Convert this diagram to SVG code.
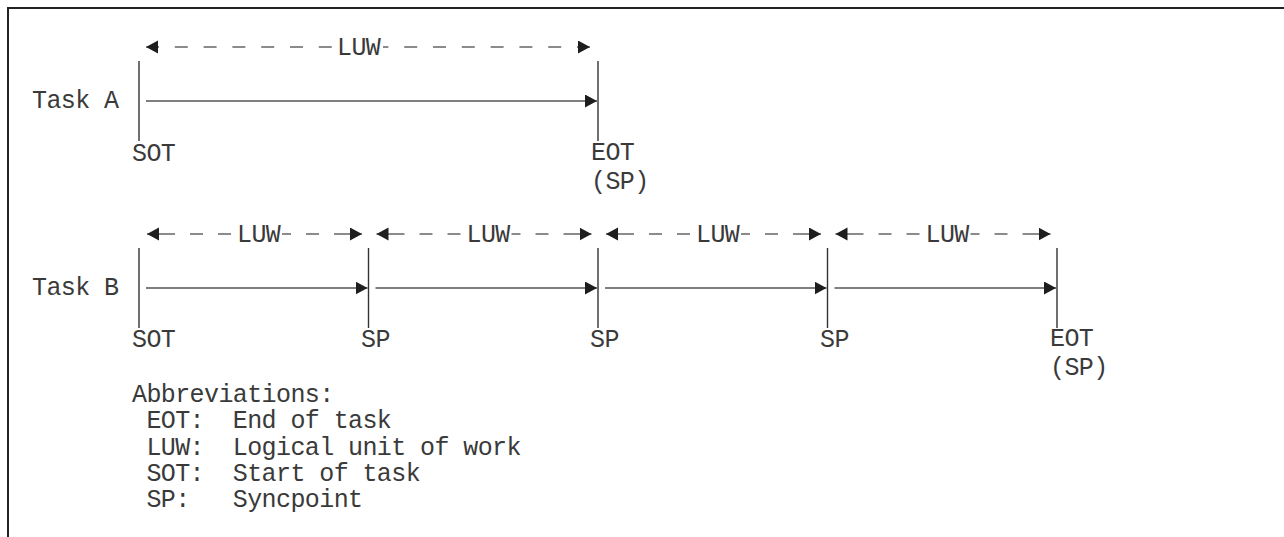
<svg xmlns="http://www.w3.org/2000/svg" width="1284" height="537" viewBox="0 0 1284 537">
<style>
.t{font-family:"Liberation Mono","DejaVu Sans Mono",monospace;font-size:25px;letter-spacing:-0.6px;fill:#3a3a3a}
.v{stroke:#333;stroke-width:1.4;fill:none}
.h{stroke:#555;stroke-width:1.4;fill:none;marker-end:url(#ah)}
.dA{stroke:#666;stroke-width:1.4;fill:none;stroke-dasharray:13 15.8;marker-start:url(#ah)}
.dB{stroke:#666;stroke-width:1.4;fill:none;stroke-dasharray:28 15 13 15 13 15 13 15;marker-start:url(#ah)}
.frame{stroke:#222;stroke-width:2;fill:none}
</style>
<defs>
<marker id="ah" markerUnits="userSpaceOnUse" markerWidth="13" markerHeight="14" refX="12" refY="6.5" orient="auto-start-reverse">
<path d="M0,0 L12,6.5 L0,13 z" fill="#1e1e1e"/>
</marker>
</defs>
<path class="frame" d="M1284,8 L8,8 L8,537"/>

<g id="taskA">
<text class="t" x="32" y="108">Task A</text>
<line class="v" x1="139" y1="61" x2="139" y2="141"/>
<line class="v" x1="598" y1="61" x2="598" y2="141"/>
<text class="t" x="132" y="161">SOT</text>
<text class="t" x="591" y="160">EOT<tspan x="591" dy="28.5">(SP)</tspan></text>
</g>

<g id="taskB">
<text class="t" x="32" y="295">Task B</text>
<line class="v" x1="139" y1="248" x2="139" y2="328"/>
<line class="v" x1="368.5" y1="248" x2="368.5" y2="328"/>
<line class="v" x1="598" y1="248" x2="598" y2="328"/>
<line class="v" x1="827.5" y1="248" x2="827.5" y2="328"/>
<line class="v" x1="1057" y1="248" x2="1057" y2="328"/>
<text class="t" x="132" y="347">SOT</text>
<text class="t" x="361" y="347">SP</text>
<text class="t" x="590" y="347">SP</text>
<text class="t" x="820" y="347">SP</text>
<text class="t" x="1050" y="346">EOT<tspan x="1050" dy="28.5">(SP)</tspan></text>
</g>

<g id="connectors">
<path class="h" d="M146,101 L597,101"/>
<path class="dA" d="M146,47 L333,47"/>
<path class="dA" d="M590,47 L383,47"/>
<text class="t" x="358.6" y="55" text-anchor="middle">LUW</text>

<path class="h" d="M146,288 L367.5,288"/>
<path class="h" d="M375.5,288 L597,288"/>
<path class="h" d="M605,288 L826.5,288"/>
<path class="h" d="M834.5,288 L1056,288"/>

<path class="dB" d="M147,234 L233,234"/>
<path class="dB" d="M362,234 L282,234"/>
<text class="t" x="258.6" y="242" text-anchor="middle">LUW</text>
<path class="dB" d="M376.5,234 L462.5,234"/>
<path class="dB" d="M591.5,234 L511.5,234"/>
<text class="t" x="488.1" y="242" text-anchor="middle">LUW</text>
<path class="dB" d="M606,234 L692,234"/>
<path class="dB" d="M821,234 L741,234"/>
<text class="t" x="717.6" y="242" text-anchor="middle">LUW</text>
<path class="dB" d="M835.5,234 L921.5,234"/>
<path class="dB" d="M1050.5,234 L970.5,234"/>
<text class="t" x="947.1" y="242" text-anchor="middle">LUW</text>
</g>

<g id="legend">
<text class="t" x="132" y="402" xml:space="preserve">Abbreviations:<tspan x="132" dy="26.3"> EOT:  End of task</tspan><tspan x="132" dy="26.3"> LUW:  Logical unit of work</tspan><tspan x="132" dy="26.3"> SOT:  Start of task</tspan><tspan x="132" dy="26.3"> SP:   Syncpoint</tspan></text>
</g>
</svg>
